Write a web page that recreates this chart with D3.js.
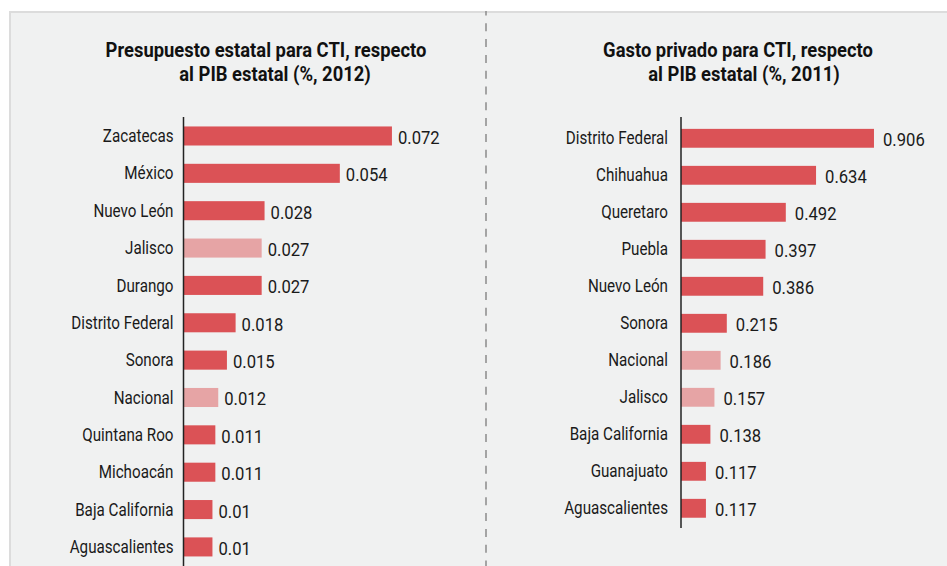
<!DOCTYPE html>
<html>
<head>
<meta charset="utf-8">
<script src="https://cdn.jsdelivr.net/npm/d3@7"></script>
<style>
  html, body { margin: 0; padding: 0; background: #ffffff; }
  svg { display: block; }
  text { font-family: Roboto, "DejaVu Sans", sans-serif; }
</style>
</head>
<body>
<svg id="chart" width="947" height="566"></svg>
<script>
// Presupuesto estatal para CTI (% del PIB estatal, 2012)
const leftTitle = ["Presupuesto estatal para CTI, respecto", "al PIB estatal (%, 2012)"];
const leftCategories = ["Zacatecas", "México", "Nuevo León", "Jalisco", "Durango", "Distrito Federal",
  "Sonora", "Nacional", "Quintana Roo", "Michoacán", "Baja California", "Aguascalientes"];
const leftValues = [0.072, 0.054, 0.028, 0.027, 0.027, 0.018, 0.015, 0.012, 0.011, 0.011, 0.01, 0.01];
const leftHighlight = ["Jalisco", "Nacional"];

// Gasto privado para CTI (% del PIB estatal, 2011)
const rightTitle = ["Gasto privado para CTI, respecto", "al PIB estatal (%, 2011)"];
const rightCategories = ["Distrito Federal", "Chihuahua", "Queretaro", "Puebla", "Nuevo León", "Sonora",
  "Nacional", "Jalisco", "Baja California", "Guanajuato", "Aguascalientes"];
const rightValues = [0.906, 0.634, 0.492, 0.397, 0.386, 0.215, 0.186, 0.157, 0.138, 0.117, 0.117];
const rightHighlight = ["Nacional", "Jalisco"];

const W = 947, H = 566;
const RED = "#db5256", PINK = "#e6a4a5", BG = "#f0f1f1";
// horizontal squeeze giving the condensed look of the lettering
const SQ_LABEL = 0.8, SQ_VALUE = 0.9, SQ_TITLE = 0.92;

const svg = d3.select("#chart");

// panel background with its top/left rule
svg.append("rect").attr("x", 9).attr("y", 11).attr("width", W - 9).attr("height", H - 11).attr("fill", BG);
svg.append("line").attr("x1", 9).attr("x2", W).attr("y1", 12).attr("y2", 12)
  .attr("stroke", "#dcdcdc").attr("stroke-width", 2);
svg.append("line").attr("x1", 10).attr("x2", 10).attr("y1", 11).attr("y2", H)
  .attr("stroke", "#dcdcdc").attr("stroke-width", 2);

// dashed divider between the two panels
svg.append("line").attr("x1", 486).attr("x2", 486).attr("y1", 11).attr("y2", H)
  .attr("stroke", "#8a8a8a").attr("stroke-width", 1.5)
  .attr("stroke-dasharray", "8,7.8").attr("stroke-dashoffset", 3.5);

function panel(cfg) {
  const g = svg.append("g");

  const y = d3.scaleBand().domain(cfg.categories).range(cfg.yRange)
    .paddingInner(0.49).paddingOuter(0.245);
  const x = d3.scaleLinear().domain(cfg.xDomain).range(cfg.xRange);

  // title
  g.append("g").selectAll("text").data(cfg.title).join("text")
    .attr("transform", (d, i) => `translate(${cfg.titleX[i]},${cfg.titleY + i * 24}) scale(${SQ_TITLE},1)`)
    .attr("text-anchor", "middle")
    .attr("font-size", 20).attr("font-weight", "bold").attr("fill", "#111")
    .text(d => d);

  // bars
  g.append("g").selectAll("rect").data(cfg.values).join("rect")
    .attr("x", x(0))
    .attr("y", (d, i) => y(cfg.categories[i]))
    .attr("width", d => x(d) - x(0))
    .attr("height", y.bandwidth())
    .attr("fill", (d, i) => cfg.highlight.includes(cfg.categories[i]) ? PINK : RED);

  // value labels
  g.append("g").selectAll("text").data(cfg.values).join("text")
    .attr("transform", (d, i) =>
      `translate(${x(d) + cfg.labelGap},${y(cfg.categories[i]) + y.bandwidth() / 2 + 1.5}) scale(${SQ_VALUE},1)`)
    .attr("dy", "0.35em")
    .attr("font-size", 18.5).attr("fill", "#1a1a1a")
    .text(d => String(d));

  // category axis
  const axis = g.append("g").attr("transform", `translate(${x(0)},0)`)
    .call(d3.axisLeft(y).tickSize(0).tickPadding(cfg.tickPad));
  axis.select(".domain").attr("stroke", "#222").attr("stroke-width", 1.5)
    .attr("d", `M0,${cfg.axisSpan[0]}V${cfg.axisSpan[1]}`);
  axis.selectAll(".tick text")
    .attr("x", 0)
    .attr("transform", `translate(${-cfg.tickPad},0) scale(${SQ_LABEL},1)`)
    .attr("font-family", "Roboto, 'DejaVu Sans', sans-serif")
    .attr("font-size", 19).attr("fill", "#1a1a1a");
}

panel({
  title: leftTitle, titleX: [266, 275], titleY: 57,
  categories: leftCategories, values: leftValues, highlight: leftHighlight,
  xDomain: [0, 0.08], xRange: [183.5, 183.5 + 0.08 * 2895],
  yRange: [117.3, 565.6], axisSpan: [117, 566],
  labelGap: 6, tickPad: 10
});

panel({
  title: rightTitle, titleX: [738, 744], titleY: 57,
  categories: rightCategories, values: rightValues, highlight: rightHighlight,
  xDomain: [0, 1], xRange: [681, 681 + 213],
  yRange: [119.8, 526.8], axisSpan: [117, 528],
  labelGap: 9, tickPad: 13
});
</script>
</body>
</html>
